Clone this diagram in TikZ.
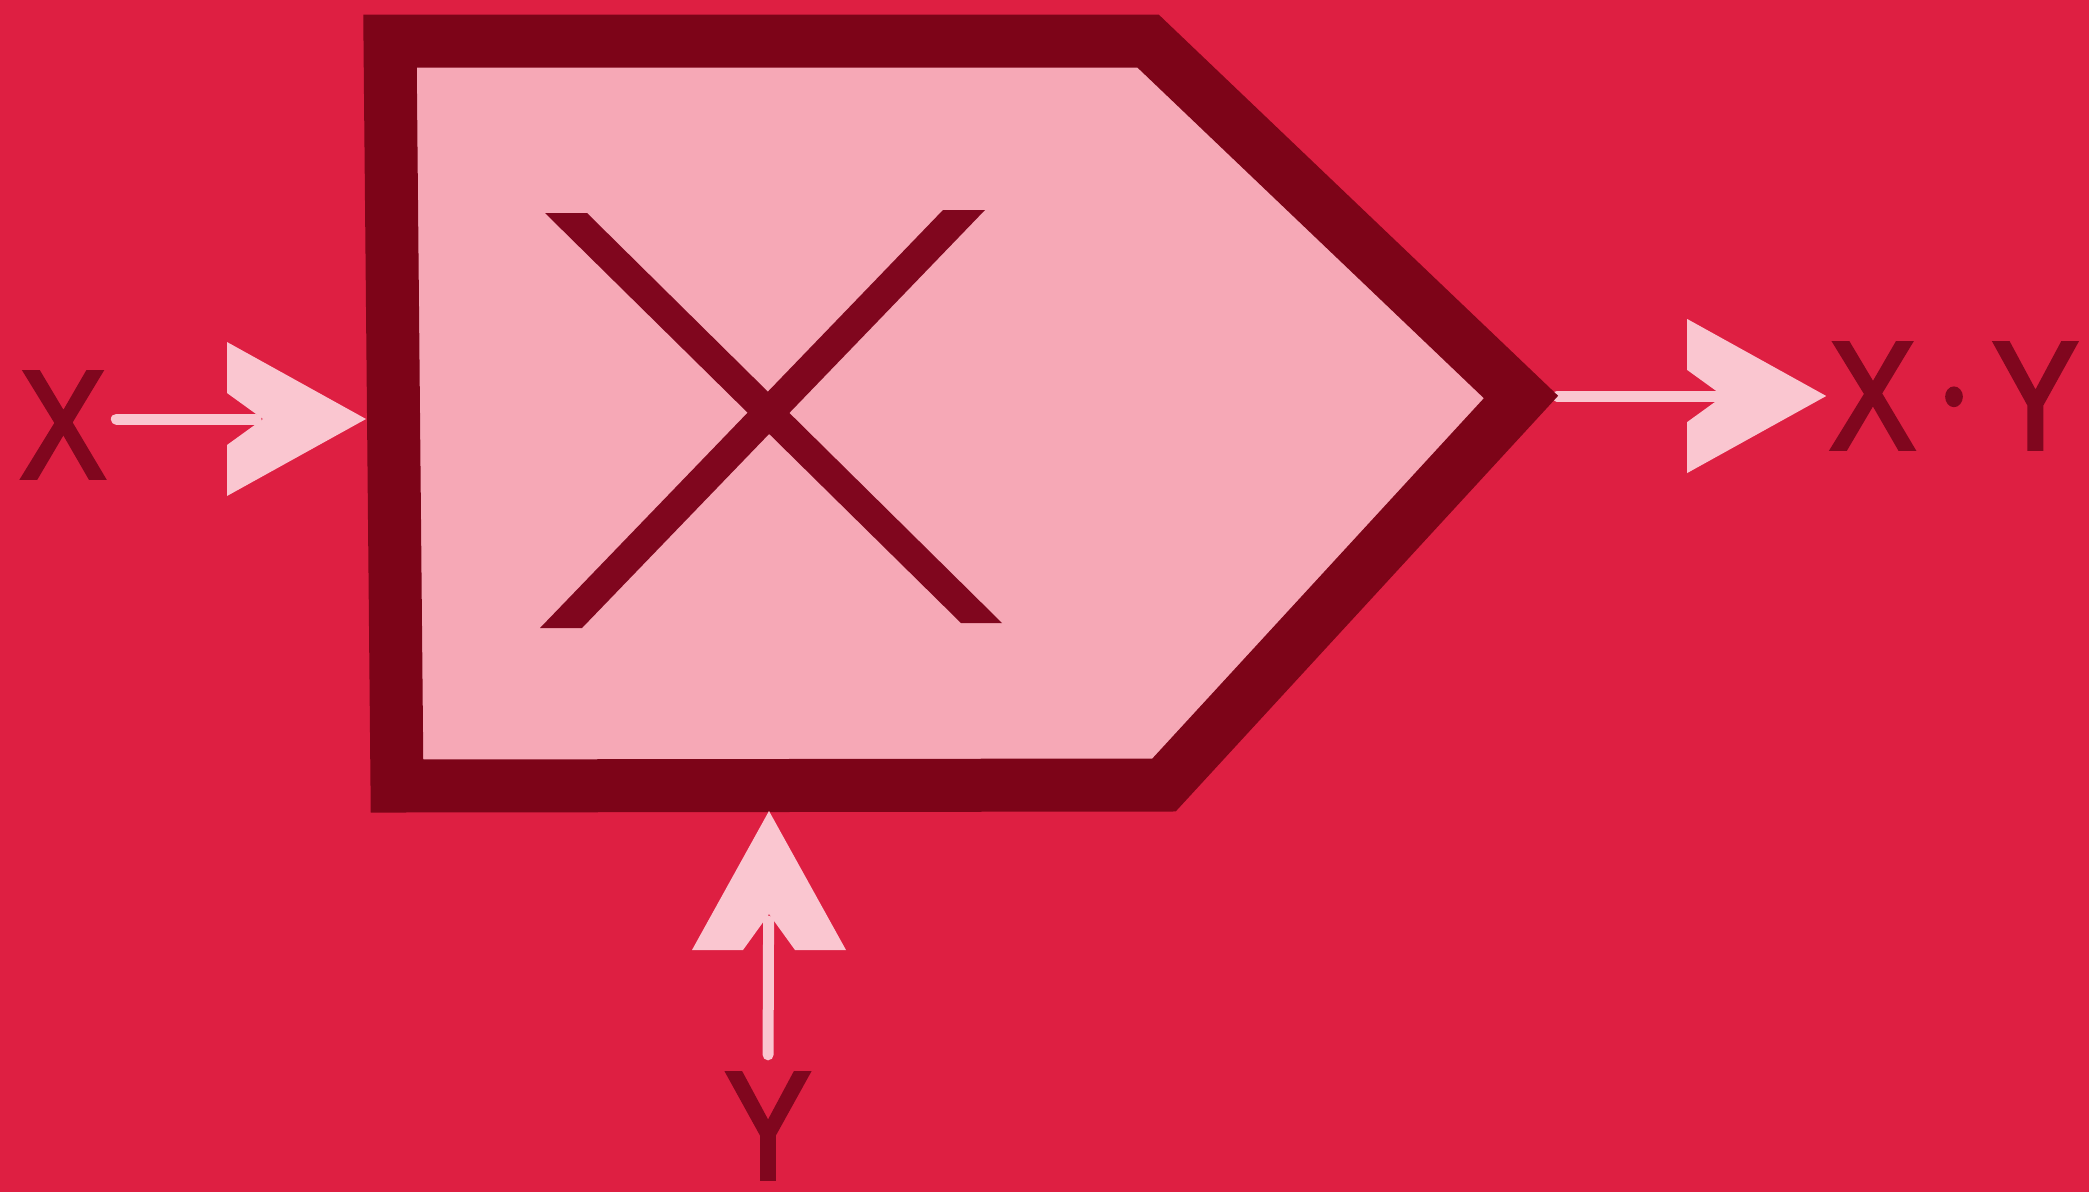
\documentclass[tikz,border=0pt]{standalone}
\usepackage{fontspec}
\newfontfamily\lblfont[FakeStretch=0.84,FakeBold=2.5]{Liberation Sans}
\definecolor{bgred}{RGB}{222,31,66}
\definecolor{gateborder}{RGB}{125,4,24}
\definecolor{gatefill}{RGB}{246,168,182}
\definecolor{arrowpink}{RGB}{250,198,208}
\definecolor{inkred}{RGB}{128,6,30}
\tikzset{
  gate/.style={draw=gateborder, fill=gatefill, line width=53pt, line join=miter},
  crossbar/.style={fill=inkred},
  lbl/.style={inner sep=0pt, text=inkred, font=\lblfont\fontsize{154}{160}\selectfont},
  shaft/.style={draw=arrowpink, line width=11pt, line cap=round},
  ahead/.pic={\fill[arrowpink] (0,0) -- (-139,-77) -- (-139,-26) -- (-103,0) -- (-139,26) -- (-139,77) -- cycle;}
}
\begin{document}
\begin{tikzpicture}[x=1pt, y=-1pt]
\useasboundingbox (0,0) rectangle (2089,1192);
\fill[bgred] (0,0) rectangle (2089,1192);
% gate corners
\coordinate (g1) at (390,41);
\coordinate (g2) at (1148,41);
\coordinate (g3) at (1521,397);
\coordinate (g4) at (1164,785);
\coordinate (g5) at (397,786);
% ports
\coordinate (pA) at (366,419);
\coordinate (pB) at (769,811);
\coordinate (pOut) at (1557,396);
% labels
\node[lbl] (xin) at (63,425) {X};
\node[lbl] (yin) at (768,1126) {Y};
\node[lbl] (xy) at (1954,396) {X\hspace{28pt}\raisebox{29pt}{\fontsize{70}{70}\selectfont •}\hspace{28pt}Y};
% shafts
\draw[shaft, shorten <=10pt, shorten >=110pt] (xin.east |- pA) -- (pA);
\draw[shaft, shorten <=18pt, shorten >=110pt] (yin.north) -- (pB);
\draw[shaft, shorten >=110pt] (pOut) -- (xy.west);
% gate
\draw[gate] (g1) -- (g2) -- (g3) -- (g4) -- (g5) -- cycle;
% cross symbol
\fill[crossbar] (545,213) -- (587,213) -- (1002,623) -- (961,623) -- cycle;
\fill[crossbar] (943,210) -- (985,210) -- (582,628) -- (540,628) -- cycle;
% arrow heads
\pic at (pA) {ahead};
\pic[rotate=90] at (pB) {ahead};
\pic at ([xshift=-3pt]xy.west) {ahead};
\end{tikzpicture}
\end{document}
